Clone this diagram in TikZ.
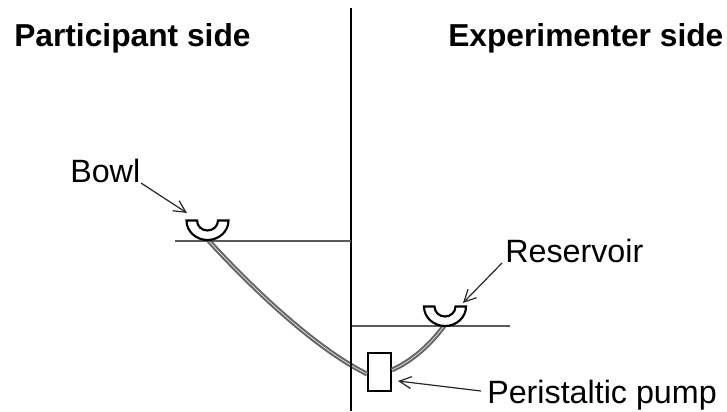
\documentclass[tikz,border=0pt]{standalone}
\usepackage{fontspec}
\setmainfont{Liberation Sans}
\usetikzlibrary{arrows.meta}
\tikzset{
  label/.style={font=\fontsize{24.2}{28}\selectfont,inner sep=0pt,anchor=base west},
  head/.style={font=\fontsize{23.8}{28}\bfseries\selectfont,inner sep=0pt,anchor=base west},
  pointer/.style={draw=black!85,line width=.9pt,-{Straight Barb[length=9pt,width=9pt]}},
  shelf/.style={draw=black!65,line width=.8pt},
  tube/.style={draw=black!60,line width=1.6pt,double=white,double distance=.4pt},
  cup/.style={draw=black,line width=1.6pt,fill=white}
}
\newcommand{\cupshape}[3]{% centre x, top y, outer radius
  \draw[cup] (#1-#3,#2) arc[start angle=180,end angle=0,x radius=#3,y radius=19.5]
    -- (#1+#3-10.5,#2) arc[start angle=0,end angle=180,x radius=#3-10.5,y radius=10] -- cycle;
}
\begin{document}
\begin{tikzpicture}[x=.75pt,y=-.75pt]
  \useasboundingbox (0,0) rectangle (727,411);
  % captions
  \node[head] (part) at (14,46) {Participant side};
  \node[head] (expe) at (448,46) {Experimenter side};
  % tube
  \node[draw,line width=1.6pt,fill=white,minimum width=17pt,minimum height=28.5pt,inner sep=0pt] (pump) at (379.5,372) {};
  \coordinate (bowlout) at (208,240);
  \coordinate (resout) at (444,326);
  \draw[tube] (bowlout) .. controls (262,299) and (322,352) .. (pump.west |- 0,374);
  \draw[tube] (pump.east |- 0,370) .. controls (412,361) and (430,345) .. (resout);
  % partition and shelves
  \coordinate (top) at (351,8);
  \coordinate (bottom) at (351,411);
  \draw[line width=1.6pt] (top) -- (bottom);
  \coordinate (shelfL) at (175,241);
  \coordinate (wallL) at (351,241);
  \coordinate (wallR) at (352,326);
  \coordinate (shelfR) at (510,326);
  \draw[shelf] (shelfL) -- (wallL);
  \draw[shelf] (wallR) -- (shelfR);
  % bowl and reservoir
  \cupshape{207.5}{220.5}{21}
  \cupshape{445}{306.5}{21}
  % labels
  \node[label] (bowl) at (70,182) {Bowl};
  \node[label] (res) at (505,262) {Reservoir};
  \node[label] (peri) at (487,403.5) {Peristaltic pump};
  \coordinate (bowlfrom) at (141,183);
  \coordinate (resfrom) at (502,263);
  \coordinate (perifrom) at (481,391);
  \coordinate (bowltip) at (187,213);
  \coordinate (restip) at (463,303);
  \coordinate (pumptip) at (398,381);
  \draw[pointer] (bowlfrom) -- (bowltip);
  \draw[pointer] (resfrom) -- (restip);
  \draw[pointer] (perifrom) -- (pumptip);
\end{tikzpicture}
\end{document}
